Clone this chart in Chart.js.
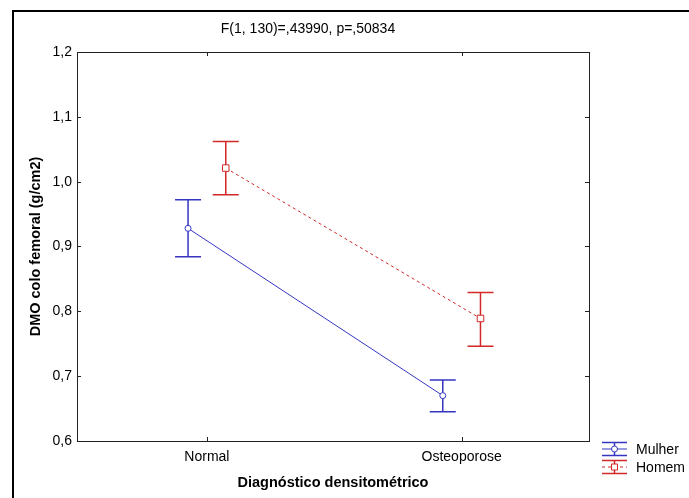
<!DOCTYPE html>
<html>
<head>
<meta charset="utf-8">
<script src="https://cdn.jsdelivr.net/npm/chart.js@4/dist/chart.umd.min.js"></script>
<style>
  html, body { margin: 0; padding: 0; background: #fff; overflow: hidden; }
  canvas { display: block; }
</style>
</head>
<body>
<canvas id="chart" width="689" height="498"></canvas>
<script>
const categories = ['Normal', 'Osteoporose'];
const yTickValues = [0.6, 0.7, 0.8, 0.9, 1.0, 1.1, 1.2];

// means and 95% interval ends
const mulherMean = [0.928, 0.670];
const mulherLow = [0.884, 0.645];
const mulherHigh = [0.972, 0.694];
const homemMean = [1.021, 0.789];
const homemLow = [0.980, 0.746];
const homemHigh = [1.062, 0.829];

const chartTitle = 'F(1, 130)=,43990, p=,50834';
const blue = '#3535c2';
const red = '#d22828';
const fontFamily = '"Liberation Sans", Arial, sans-serif';

// small horizontal dodge so the two groups don't overlap
const dodge = 0.074;

function toPoints(values, shift) {
  return values.map((v, i) => ({ x: i + shift, y: v }));
}

function formatComma(v) {
  return v.toFixed(1).replace('.', ',');
}

const statPlugin = {
  id: 'statPlugin',
  beforeDraw(chart) {
    const ctx = chart.ctx;
    ctx.save();
    ctx.strokeStyle = '#000';
    ctx.lineWidth = 2;
    ctx.strokeRect(13, 11, 720, 520);
    ctx.restore();
  },
  beforeDatasetsDraw(chart) {
    const ctx = chart.ctx;
    const yScale = chart.scales.y;
    chart.data.datasets.forEach((ds, di) => {
      const meta = chart.getDatasetMeta(di);
      ctx.save();
      ctx.strokeStyle = ds.borderColor;
      ctx.lineWidth = 1.5;
      meta.data.forEach((pt, i) => {
        const top = yScale.getPixelForValue(ds.errHigh[i]);
        const bot = yScale.getPixelForValue(ds.errLow[i]);
        ctx.beginPath();
        ctx.moveTo(pt.x, top);
        ctx.lineTo(pt.x, bot);
        ctx.moveTo(pt.x - 13, top);
        ctx.lineTo(pt.x + 13, top);
        ctx.moveTo(pt.x - 13, bot);
        ctx.lineTo(pt.x + 13, bot);
        ctx.stroke();
      });
      ctx.restore();
    });
  },
  afterDraw(chart) {
    const ctx = chart.ctx;
    const area = chart.chartArea;
    const xScale = chart.scales.x;
    const yScale = chart.scales.y;
    ctx.save();

    // frame of the plot with inward ticks
    ctx.strokeStyle = '#222';
    ctx.lineWidth = 1;
    ctx.strokeRect(Math.round(area.left) + 0.5, Math.round(area.top) + 0.5,
      Math.round(area.right - area.left), Math.round(area.bottom - area.top));
    ctx.beginPath();
    xScale.ticks.forEach(t => {
      const px = Math.round(xScale.getPixelForValue(t.value)) + 0.5;
      ctx.moveTo(px, area.bottom);
      ctx.lineTo(px, area.bottom - 4);
      ctx.moveTo(px, area.top);
      ctx.lineTo(px, area.top + 4);
    });
    yScale.ticks.forEach(t => {
      const py = Math.round(yScale.getPixelForValue(t.value)) + 0.5;
      ctx.moveTo(area.left, py);
      ctx.lineTo(area.left + 4, py);
      ctx.moveTo(area.right, py);
      ctx.lineTo(area.right - 4, py);
    });
    ctx.stroke();

    // title
    ctx.fillStyle = '#000';
    ctx.font = '14px ' + fontFamily;
    ctx.textAlign = 'center';
    ctx.textBaseline = 'middle';
    ctx.fillText(chartTitle, 308, 29);

    // legend
    const lx = 602, lw = 25;
    chart.data.datasets.forEach((ds, di) => {
      const cy = 449 + di * 18;
      const cx = lx + lw / 2;
      ctx.strokeStyle = ds.borderColor;
      ctx.lineWidth = 1.5;
      ctx.setLineDash([]);
      ctx.beginPath();
      ctx.moveTo(lx, cy - 6.5); ctx.lineTo(lx + lw, cy - 6.5);
      ctx.moveTo(lx, cy + 6.5); ctx.lineTo(lx + lw, cy + 6.5);
      ctx.moveTo(cx, cy - 6.5); ctx.lineTo(cx, cy + 6.5);
      ctx.stroke();
      ctx.lineWidth = 1;
      ctx.setLineDash(ds.borderDash || []);
      ctx.beginPath();
      ctx.moveTo(lx, cy); ctx.lineTo(lx + lw, cy);
      ctx.stroke();
      ctx.setLineDash([]);
      ctx.fillStyle = '#fff';
      ctx.beginPath();
      if (ds.pointStyle === 'rect') {
        ctx.rect(cx - 3, cy - 3, 6, 6);
      } else {
        ctx.arc(cx, cy, 3, 0, Math.PI * 2);
      }
      ctx.fill();
      ctx.stroke();
      ctx.fillStyle = '#000';
      ctx.font = '14px ' + fontFamily;
      ctx.textAlign = 'left';
      ctx.fillText(ds.label, 636, cy + 1);
    });
    ctx.restore();
  }
};

new Chart(document.getElementById('chart'), {
  type: 'line',
  data: {
    datasets: [
      {
        label: 'Mulher',
        data: toPoints(mulherMean, -dodge),
        errLow: mulherLow,
        errHigh: mulherHigh,
        borderColor: blue,
        backgroundColor: '#fff',
        borderWidth: 1,
        pointStyle: 'circle',
        pointRadius: 3,
        pointBorderWidth: 1,
        pointBackgroundColor: '#fff',
        pointBorderColor: blue
      },
      {
        label: 'Homem',
        data: toPoints(homemMean, dodge),
        errLow: homemLow,
        errHigh: homemHigh,
        borderColor: red,
        backgroundColor: '#fff',
        borderWidth: 1,
        borderDash: [3, 3],
        pointStyle: 'rect',
        pointRadius: 4.6,
        pointBorderWidth: 1,
        pointBackgroundColor: '#fff',
        pointBorderColor: red
      }
    ]
  },
  options: {
    responsive: false,
    animation: false,
    devicePixelRatio: 1,
    layout: { padding: { top: 52, right: 100, left: 0, bottom: 0 } },
    plugins: {
      legend: { display: false },
      title: { display: false },
      tooltip: { enabled: false }
    },
    scales: {
      x: {
        type: 'linear',
        min: -0.51,
        max: 1.5,
        afterBuildTicks: s => { s.ticks = categories.map((c, i) => ({ value: i })); },
        afterFit: s => { s.height = 57; },
        ticks: {
          callback: v => categories[v],
          color: '#000',
          padding: 8,
          autoSkip: false,
          maxRotation: 0,
          font: { family: fontFamily, size: 14 }
        },
        grid: { display: false, drawTicks: false },
        border: { display: false },
        title: {
          display: true,
          text: 'Diagnóstico densitométrico',
          color: '#000',
          padding: { top: 0, bottom: 6 },
          font: { family: fontFamily, size: 14.5, weight: 'bold' }
        }
      },
      y: {
        min: 0.6,
        max: 1.2,
        afterBuildTicks: s => { s.ticks = yTickValues.map(v => ({ value: v })); },
        afterFit: s => { s.width = 77; },
        ticks: {
          callback: v => formatComma(v),
          color: '#000',
          padding: 5,
          font: { family: fontFamily, size: 14 }
        },
        grid: { display: false, drawTicks: false },
        border: { display: false },
        title: {
          display: true,
          text: 'DMO colo femoral (g/cm2)',
          color: '#000',
          padding: { top: 27, bottom: 0 },
          font: { family: fontFamily, size: 14.5, weight: 'bold' }
        }
      }
    }
  },
  plugins: [statPlugin]
});
</script>
</body>
</html>
